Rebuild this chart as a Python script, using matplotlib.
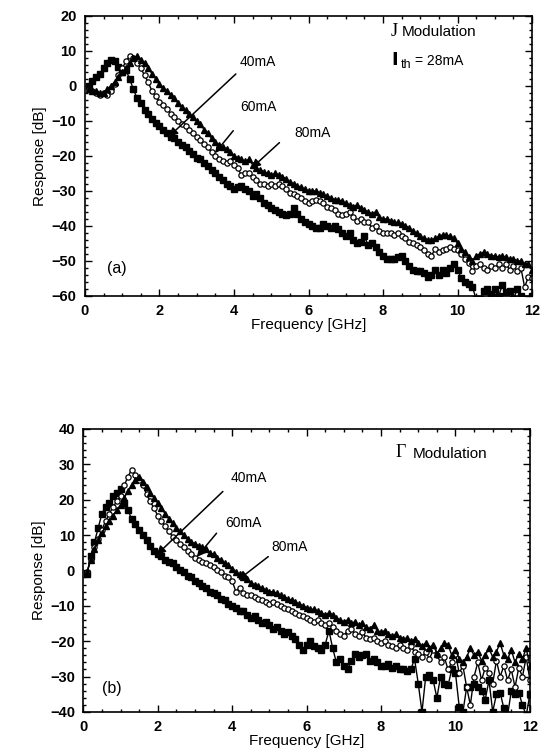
import numpy as np
import matplotlib
matplotlib.use("Agg")
import matplotlib.pyplot as plt
from matplotlib.ticker import MultipleLocator

plt.rcParams['font.family'] = ['Liberation Sans', 'DejaVu Sans']

# frequency grid [GHz]
freq = np.linspace(0.1, 12.0, 120)

# ---- (a) J modulation, response [dB]
j_40 = [0, 1.5, 2.5, 3.5, 5, 6.5, 7.5, 7, 5.5, 4,
        4.5, 2, -1, -3.5, -5, -7, -8, -9.5, -10.5, -11.5,
        -12.5, -13.5, -14.5, -15, -16, -17, -17.5, -18.5, -19.5, -20.5,
        -21, -22, -23, -24, -25, -26, -27, -28, -28.5, -29.5,
        -29, -28.5, -29.5, -30, -31.5, -31, -32, -33.5, -34, -35,
        -35.5, -36, -36.5, -37, -36.5, -35, -36.5, -38, -39, -39.5,
        -40, -40.5, -40.5, -39.5, -40, -40.5, -40, -41, -42, -43,
        -42, -44, -45, -44.5, -43, -45.5, -45, -46, -47.5, -48.5,
        -49.5, -49.5, -49.5, -49, -48.5, -50, -51.5, -52.5, -53, -53,
        -53.5, -54.5, -54, -52.5, -54, -52.5, -53.5, -52, -51, -52.5,
        -55, -56, -56.5, -57.5, -61, -61, -58.5, -58, -59.5, -58,
        -60, -57, -59, -58.5, -61, -58, -60, -61, -62, -60]
j_60 = [-1, -1.5, -2, -2.5, -2, -2.5, -1.5, 0.5, 3, 5,
        7, 8.5, 8, 6.5, 5, 3, 1, -1.5, -3, -4.5,
        -5.5, -6.5, -8, -9, -10, -11, -11.5, -12.5, -13.5, -14.5,
        -15.5, -16.5, -17.5, -19, -20, -21, -21.5, -22, -21.5, -22.5,
        -23.5, -25.5, -25, -25, -26, -27, -28, -28, -28.5, -28,
        -28.5, -28, -28.5, -29.5, -30.5, -31, -31.5, -32, -33, -33.5,
        -33, -32.5, -33, -33.5, -34.5, -35, -35.5, -36.5, -37, -36.5,
        -36, -37.5, -38.5, -38, -39, -39, -40.5, -40, -41.5, -42,
        -42, -42, -42.5, -42, -43, -43.5, -44.5, -45, -45.5, -46,
        -47, -48, -48.5, -46.5, -47.5, -47, -46.5, -46, -46.5, -47,
        -48, -49.5, -50.5, -53, -51.5, -51, -52, -52.5, -51.5, -52,
        -51, -52, -51, -52.5, -51.5, -53, -52, -57.5, -54.5, -55]
j_80 = [-1, -1.5, -1.5, -2, -2, -1, 0, 1, 2.5, 4,
        5, 6.5, 8, 8.5, 7.5, 6.5, 5, 3.5, 2, 0.5,
        -0.5, -1.5, -2.5, -3.5, -5, -6, -7, -8, -9, -10,
        -11, -12.5, -13.5, -15, -16, -17, -17.5, -18, -19, -20,
        -20.5, -21, -21.5, -21, -22.5, -23.5, -24, -24.5, -25, -25.5,
        -25, -25.5, -26, -26.5, -27.5, -28, -28.5, -29, -29.5, -30,
        -30, -30, -30.5, -31, -31.5, -32, -32.5, -32.5, -33, -33.5,
        -34, -34.5, -34, -35, -35.5, -36, -36.5, -36, -37.5, -38,
        -38, -38.5, -39, -39, -39.5, -40, -40.5, -41.5, -42, -43,
        -43.5, -44, -44, -43.5, -43, -42.5, -42.5, -43, -43.5, -45,
        -46.5, -47.5, -49, -50, -48.5, -48, -47.5, -48, -48.5, -48.5,
        -49, -48.5, -49, -49.5, -49.5, -50, -50, -51, -51, -52.5]

# ---- (b) Gamma modulation, response [dB]
g_40 = [-1, 4, 8, 12, 16, 18, 19, 21, 22, 23,
        19, 17, 14.5, 13, 11.5, 10, 8.5, 7, 5.5, 4.5,
        4, 3, 2.5, 2, 1, 0, -0.5, -1.5, -2, -3,
        -3.5, -4.5, -5, -6, -6.5, -7, -8, -8.5, -9.5, -10,
        -10.5, -11.5, -11.5, -12.5, -13.5, -13, -14, -15, -14.5, -15.5,
        -16.5, -16, -17, -18, -17.5, -18.5, -19.5, -21, -22.5, -21,
        -20, -21.5, -22, -22.5, -21, -17, -22, -26, -25, -27,
        -28, -25.5, -23.5, -24.5, -24, -23.5, -25.5, -25, -26, -27,
        -27, -26.5, -27.5, -27, -28, -28, -28.5, -28, -25, -32,
        -40, -30, -29.5, -31, -36, -30, -32, -32.5, -28, -29,
        -38.5, -40, -33, -33, -32, -33, -34, -36.5, -31, -40,
        -35, -34.5, -39, -41, -34, -35, -34.5, -38, -41, -35]
g_60 = [-0.5, 3, 6.5, 9, 11.5, 14, 16, 18, 19.5, 21,
        24, 26.5, 28.5, 27, 25.5, 24, 21.5, 19.5, 17.5, 15.5,
        14, 12.5, 11, 9.5, 8.5, 7.5, 6.5, 5.5, 4.5, 3.5,
        3, 2.5, 2, 1.5, 1, 0, -0.5, -1.5, -2, -3,
        -6, -5, -6.5, -7, -7, -7.5, -8, -8.5, -9, -9.5,
        -9, -9.5, -10, -10.5, -11, -11.5, -12, -12.5, -13, -13.5,
        -14, -14.5, -14, -15, -15.5, -15, -16, -17, -18, -18.5,
        -17, -16.5, -18, -18.5, -17.5, -19, -19.5, -19, -20, -20.5,
        -20, -21, -21.5, -22, -21, -22, -22.5, -21.5, -23, -23.5,
        -24.5, -23, -25, -22.5, -24, -26, -24.5, -28, -26, -23.5,
        -29, -27, -33, -38, -30, -26, -31, -27.5, -29, -32,
        -25.5, -30, -27, -31, -28, -33, -27.5, -30, -24.5, -31]
g_80 = [-0.5, 3, 6, 8.5, 10.5, 12.5, 14, 15.5, 17, 18.5,
        20.5, 22.5, 24, 25.5, 26.5, 25, 23.5, 22, 20.5, 19,
        17.5, 16, 14.5, 13.5, 12, 11, 10, 9, 8, 7.5,
        7, 6.5, 6, 5, 4.5, 3.5, 3, 2, 1.5, 0.5,
        -0.5, -1, -2, -2.5, -3.5, -4, -4.5, -5, -5.5, -6,
        -6, -6.5, -7, -7.5, -8, -8.5, -9, -9.5, -10, -10.5,
        -11, -11, -11.5, -12, -12.5, -12, -12.5, -13.5, -14, -14.5,
        -14, -15, -14.5, -15.5, -15, -16, -16.5, -15.5, -17, -17.5,
        -17, -18, -18.5, -18, -19, -19.5, -19, -20, -19.5, -20.5,
        -21.5, -20.5, -22, -21, -23.5, -22, -20.5, -21, -24, -22.5,
        -25, -26, -24.5, -22, -24, -23, -25.5, -24, -22, -24.5,
        -23, -20.5, -24, -25, -22.5, -26, -23.5, -25, -22, -27]

# labels with arrows: (text, text xy, arrow tail xy, arrow tip xy)
labels_a = [("40mA", (4.65, 6.9), (4.05, 3.4), (2.25, -14.5)),
            ("60mA", (4.65, -5.9), (3.98, -12.8), (3.49, -19.2)),
            ("80mA", (6.1, -13.5), (5.22, -16.2), (4.47, -23.5))]
labels_b = [("40mA", (4.45, 26.2), (3.75, 22.3), (1.97, 4.4)),
            ("60mA", (4.3, 13.4), (3.58, 10.5), (3.05, 3.8)),
            ("80mA", (5.55, 6.7), (4.97, 3.9), (4.16, -2.7))]

fig = plt.figure(figsize=(5.48, 7.55), dpi=100)
ax1 = fig.add_axes([0.155, 0.608, 0.816, 0.371])
ax2 = fig.add_axes([0.152, 0.057, 0.815, 0.375])


def draw(ax, s40, s60, s80, ylim, labels):
    ax.plot(freq, s40, color='black', lw=1.0, marker='s', ms=3.8,
            mfc='black', mec='black')
    ax.plot(freq, s60, color='black', lw=1.0, marker='o', ms=3.8,
            mfc='white', mec='black', mew=0.9)
    ax.plot(freq, s80, color='black', lw=1.0, marker='^', ms=4.5,
            mfc='black', mec='black')
    ax.set_xlim(0, 12)
    ax.set_ylim(*ylim)
    ax.xaxis.set_major_locator(MultipleLocator(2))
    ax.xaxis.set_minor_locator(MultipleLocator(0.5))
    ax.yaxis.set_major_locator(MultipleLocator(10))
    ax.yaxis.set_minor_locator(MultipleLocator(2))
    ax.tick_params(which='both', direction='in', top=True, right=True,
                   width=1)
    ax.tick_params(which='major', length=5, labelsize=10.5, pad=6)
    ax.tick_params(which='minor', length=2.5)
    for lab in ax.get_xticklabels() + ax.get_yticklabels():
        lab.set_fontweight('bold')
    for sp in ax.spines.values():
        sp.set_linewidth(1.2)
    ax.set_xlabel('Frequency [GHz]', fontsize=11, labelpad=0)
    ax.set_ylabel('Response [dB]', fontsize=11, labelpad=3)
    for txt, txy, tail, tip in labels:
        ax.text(txy[0], txy[1], txt, fontsize=10, ha='center', va='center')
        ax.annotate('', xy=tip, xytext=tail,
                    arrowprops=dict(arrowstyle='-|>', color='black', lw=1.1,
                                    mutation_scale=13, shrinkA=0, shrinkB=0))


draw(ax1, j_40, j_60, j_80, (-60, 20), labels_a)
draw(ax2, g_40, g_60, g_80, (-40, 40), labels_b)

ax1.text(8.2, 15.4, 'J', fontsize=13, family='Liberation Serif', va='center')
ax1.text(8.5, 15.4, 'Modulation', fontsize=11, va='center')
ax1.text(8.2, 7.2, r'$\mathbf{I}$', fontsize=13, va='center')
ax1.text(8.47, 6.0, 'th', fontsize=9, va='center')
ax1.text(8.85, 7.2, '= 28mA', fontsize=10, va='center')
ax1.text(0.6, -52.3, '(a)', fontsize=11.5, va='center')

ax2.text(8.38, 33.2, 'Γ', fontsize=13, family='Liberation Serif', va='center')
ax2.text(8.85, 33.0, 'Modulation', fontsize=11, va='center')
ax2.text(0.5, -33.5, '(b)', fontsize=11.5, va='center')

fig.savefig('out.png', dpi=100)
